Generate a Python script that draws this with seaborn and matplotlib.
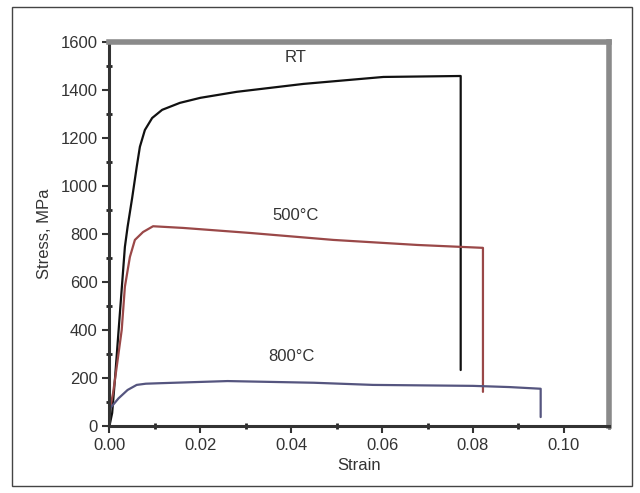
import matplotlib
matplotlib.use("Agg")
import matplotlib.pyplot as plt
import seaborn as sns
import pandas as pd
from matplotlib.patches import Rectangle
from matplotlib.ticker import MultipleLocator, FormatStrFormatter

# stress-strain curves
rt_strain = [0.0, 0.0006, 0.0012, 0.0023, 0.0034, 0.0040, 0.0050, 0.0060, 0.0067, 0.0078,
             0.0094, 0.0116, 0.0155, 0.0200, 0.0280, 0.0427, 0.0603, 0.0773, 0.0773]
rt_stress = [0, 54, 192, 470, 746, 830, 950, 1079, 1163, 1233,
             1283, 1317, 1346, 1367, 1392, 1425, 1454, 1458, 233]

c500_strain = [0.0, 0.0008, 0.0016, 0.0027, 0.0034, 0.0045, 0.0056, 0.0074, 0.0096,
               0.0162, 0.0310, 0.0493, 0.0678, 0.0822, 0.0822]
c500_stress = [60, 137, 246, 400, 580, 704, 775, 808, 832, 825, 804, 775, 754, 742, 142]

c800_strain = [0.0, 0.002, 0.004, 0.006, 0.008, 0.011, 0.026, 0.045, 0.058,
               0.080, 0.088, 0.0949, 0.0949]
c800_stress = [70, 115, 150, 171, 176, 178, 187, 180, 171, 167, 162, 155, 37]

curve_names = ["RT", "500°C", "800°C"]
curve_colors = ["#111111", "#9a4848", "#55557f"]
label_pos = [(0.041, 1533), (0.041, 875), (0.040, 288)]

x_ticks = [0.00, 0.02, 0.04, 0.06, 0.08, 0.10]
y_ticks = [0, 200, 400, 600, 800, 1000, 1200, 1400, 1600]

sns.set_theme(style="white")
plt.rcParams["font.family"] = ["Liberation Sans", "DejaVu Sans"]

fig = plt.figure(figsize=(6.4, 4.93), dpi=100)
ax = fig.add_axes([0.171, 0.136, 0.781, 0.779])

curves = [(rt_strain, rt_stress), (c500_strain, c500_stress), (c800_strain, c800_stress)]
for (xs, ys), col in zip(curves, curve_colors):
    df = pd.DataFrame({"strain": xs, "stress": ys})
    sns.lineplot(data=df, x="strain", y="stress", sort=False, estimator=None,
                 color=col, linewidth=1.6, ax=ax)

for name, (lx, ly) in zip(curve_names, label_pos):
    ax.text(lx, ly, name, ha="center", va="center", fontsize=12, color="#333333")

ax.set_xlim(0, 0.11)
ax.set_ylim(0, 1600)
ax.set_xticks(x_ticks)
ax.set_yticks(y_ticks)
ax.xaxis.set_major_formatter(FormatStrFormatter("%.2f"))
ax.xaxis.set_minor_locator(MultipleLocator(0.01))
ax.yaxis.set_minor_locator(MultipleLocator(100))
ax.tick_params(which="major", direction="out", length=5, width=1.5, color="#333333",
               labelsize=12, labelcolor="#333333", bottom=True, left=True)
ax.tick_params(which="minor", direction="inout", length=4, width=2, color="#222222",
               bottom=True, left=True)

ax.set_xlabel("Strain", fontsize=12, color="#333333", labelpad=4)
ax.set_ylabel("Stress, MPa", fontsize=12, color="#333333", labelpad=6)

for side in ["left", "bottom"]:
    ax.spines[side].set_color("#333333")
    ax.spines[side].set_linewidth(2.2)
for side in ["top", "right"]:
    ax.spines[side].set_color("#8a8a8a")
    ax.spines[side].set_linewidth(4)

# outer frame around the whole figure
fig.patches.append(Rectangle((0.018, 0.014), 0.970, 0.971, transform=fig.transFigure,
                             fill=False, edgecolor="#444444", linewidth=1))

fig.savefig("out.png", dpi=100)
